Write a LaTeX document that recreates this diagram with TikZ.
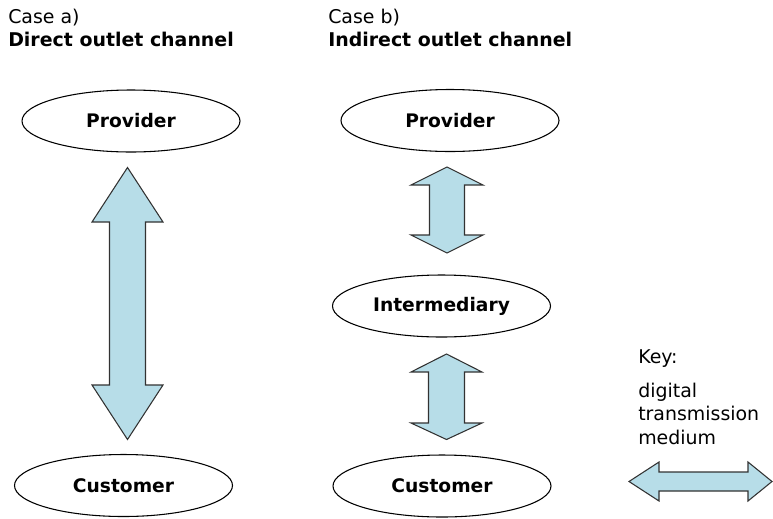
\documentclass[tikz,border=0pt]{standalone}
\usepackage{fontspec}
\setmainfont{DejaVu Sans}
\usetikzlibrary{shapes.geometric}
\definecolor{arrowfill}{RGB}{183,221,232}
\definecolor{arrowline}{RGB}{50,50,50}
\newcommand\vdarrow[7]{% cx, top tip, top base, bottom base, bottom tip, head half, shaft half
  \draw[arrowshape] (#1,#2) -- ({#1+#6},#3) -- ({#1+#7},#3) -- ({#1+#7},#4) -- ({#1+#6},#4)
    -- (#1,#5) -- ({#1-#6},#4) -- ({#1-#7},#4) -- ({#1-#7},#3) -- ({#1-#6},#3) -- cycle;}
\begin{document}
\begin{tikzpicture}[x=0.75pt,y=-0.75pt,
  every node/.style={font=\fontsize{14.2}{17}\selectfont},
  party/.style={ellipse,draw,line width=0.8pt,inner sep=0pt,minimum width=163.5pt,minimum height=46.5pt,font=\fontsize{14}{17}\selectfont\bfseries},
  arrowshape/.style={fill=arrowfill,draw=arrowline,line width=0.8pt,line join=miter},
  head/.style={anchor=base west,inner sep=0pt}]
\useasboundingbox (0,0) rectangle (773,518);
% headings
\node[head] (ha1) at (8,23.5) {Case a)};
\node[head,font=\fontsize{14.2}{17}\selectfont\bfseries] (ha2) at (8,46.5) {Direct outlet channel};
\node[head] (hb1) at (328,23.5) {Case b)};
\node[head,font=\fontsize{14.2}{17}\selectfont\bfseries] (hb2) at (328,46.5) {Indirect outlet channel};
% parties
\node[party] (provA) at (131,121) {Provider};
\node[party] (custA) at (123.5,485.5) {Customer};
\node[party] (provB) at (450,120.5) {Provider};
\node[party] (interB) at (441.5,306) {Intermediary};
\node[party] (custB) at (442,486) {Customer};
% double arrows
\vdarrow{127.5}{167.5}{222}{385}{439.5}{35.5}{18}
\vdarrow{447}{167}{185}{235}{253}{36}{17.5}
\vdarrow{446.5}{354}{372}{423}{439.5}{35.5}{18}
% key
\node[head] (key) at (638,363) {Key:};
\node[head] (k1) at (638,397) {digital};
\node[head] (k2) at (638,420.5) {transmission};
\node[head] (k3) at (638,444) {medium};
\draw[arrowshape] (629,481.5) -- (659,462) -- (659,472) -- (748,472) -- (748,462) -- (772,481.5)
  -- (748,501) -- (748,491) -- (659,491) -- (659,501) -- cycle;
\end{tikzpicture}
\end{document}
